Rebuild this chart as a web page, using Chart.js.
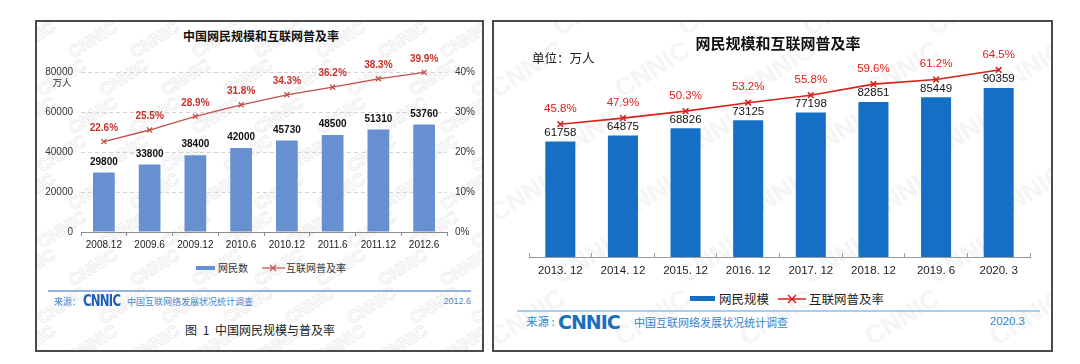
<!DOCTYPE html>
<html>
<head>
<meta charset="utf-8">
<title>中国网民规模和互联网普及率</title>
<script src="https://cdn.jsdelivr.net/npm/chart.js@4.4.1/dist/chart.umd.min.js"></script>
<style>
    body { margin: 0; width: 1080px; height: 364px; background: #fff; position: relative; overflow: hidden;
           font-family: "Liberation Sans", Arial, "Noto Sans CJK SC", sans-serif; }
    .panel { position: absolute; border: 2px solid #4a4a4a; box-sizing: border-box; overflow: hidden; }
    #p1 { left: 35px; top: 20px; width: 449px; height: 332px; }
    #p2 { left: 492px; top: 20px; width: 561px; height: 332px; }
    .mark { position: absolute; white-space: nowrap; transform: rotate(-32deg); font-weight: bold; }
    .t { position: absolute; white-space: nowrap; line-height: 1; }
    .c { transform: translate(-50%, -50%); }
    .l { transform: translate(0, -50%); }
    .r { transform: translate(-100%, -50%); }
    .cjk { font-family: "Noto Sans CJK SC", sans-serif; }
    .box { position: absolute; }
    .logo { font-family: "DejaVu Sans", sans-serif; font-weight: bold; letter-spacing: -1px; }
</style>
</head>
<body>
<div class="panel" id="p1"></div>
<div class="panel" id="p2"></div>

<div class="box" style="left:40px;top:48px;width:440px;height:212px;"><canvas id="chart1"></canvas></div>
<div class="box" style="left:500px;top:40px;width:545px;height:245px;"><canvas id="chart2"></canvas></div>

<!-- left panel texts -->
<div class="t c cjk" style="left:261px;top:36px;font-size:12px;font-weight:bold;color:#111;">中国网民规模和互联网普及率</div>
<div class="t c cjk" style="left:62px;top:83px;font-size:9.5px;color:#333;">万人</div>
<div class="box" style="left:196px;top:266px;width:19px;height:4px;background:#6690d0;"></div>
<div class="t l cjk" style="left:218px;top:268px;font-size:10px;color:#333;">网民数</div>
<svg class="box" style="left:262px;top:263px;" width="23" height="10">
    <line x1="0" y1="5" x2="23" y2="5" stroke="#c0504d" stroke-width="1.2"/>
    <path d="M8,2 L14,8 M14,2 L8,8" stroke="#c0504d" stroke-width="1.2"/>
</svg>
<div class="t l cjk" style="left:286px;top:268px;font-size:10px;color:#333;">互联网普及率</div>
<div class="box" style="left:48px;top:290px;width:423px;height:1.5px;background:#8db4e2;"></div>
<div class="t l cjk" style="left:54px;top:301px;font-size:9px;color:#4a86c8;">来源：</div>
<div class="t l logo" style="left:83px;top:301px;font-size:15px;color:#1f5fb0;transform:translate(0,-50%) scaleX(0.78);transform-origin:left center;">CNNIC</div>
<div class="t l cjk" style="left:127px;top:301px;font-size:9px;color:#4a86c8;">中国互联网络发展状况统计调查</div>
<div class="t r" style="left:471px;top:301px;font-size:9px;color:#4a86c8;">2012.6</div>
<div class="t c cjk" style="left:260px;top:330px;font-size:12px;color:#222;word-spacing:3px;">图 1 中国网民规模与普及率</div>

<!-- right panel texts -->
<div class="t c cjk" style="left:778px;top:42px;font-size:15px;font-weight:bold;color:#111;">网民规模和互联网普及率</div>
<div class="t l cjk" style="left:532px;top:58px;font-size:12.5px;color:#222;">单位：万人</div>
<div class="box" style="left:690px;top:296px;width:25px;height:5px;background:#1570c5;"></div>
<div class="t l cjk" style="left:719px;top:299px;font-size:12.5px;color:#222;">网民规模</div>
<svg class="box" style="left:778px;top:293px;" width="28" height="12">
    <line x1="0" y1="6" x2="28" y2="6" stroke="#d8211d" stroke-width="1.5"/>
    <path d="M10,2 L18,10 M18,2 L10,10" stroke="#d8211d" stroke-width="1.5"/>
</svg>
<div class="t l cjk" style="left:809px;top:299px;font-size:12.5px;color:#222;">互联网普及率</div>
<div class="box" style="left:517px;top:310px;width:523px;height:1.5px;background:#a9cdee;"></div>
<div class="t l cjk" style="left:526px;top:322px;font-size:11.5px;color:#2f86d2;">来源 :</div>
<div class="t l logo" style="left:558px;top:322px;font-size:19px;color:#1a6fbe;">CNNIC</div>
<div class="t l cjk" style="left:634px;top:322px;font-size:11px;color:#2f86d2;">中国互联网络发展状况统计调查</div>
<div class="t r" style="left:1025px;top:322px;font-size:11.5px;color:#2f86d2;">2020.3</div>

<script>
// ---- chart 1 (2012.6 report) ----
const periods1 = ['2008.12', '2009.6', '2009.12', '2010.6', '2010.12', '2011.6', '2011.12', '2012.6'];
const users1 = [29800, 33800, 38400, 42000, 45730, 48500, 51310, 53760];
const rate1 = [22.6, 25.5, 28.9, 31.8, 34.3, 36.2, 38.3, 39.9];
const usersTicks1 = [0, 20000, 40000, 60000, 80000];
const rateTicks1 = [0, 10, 20, 30, 40];

// ---- chart 2 (2020.3 report) ----
const periods2 = ['2013. 12', '2014. 12', '2015. 12', '2016. 12', '2017. 12', '2018. 12', '2019. 6', '2020. 3'];
const users2 = [61758, 64875, 68826, 73125, 77198, 82851, 85449, 90359];
const rate2 = [45.8, 47.9, 50.3, 53.2, 55.8, 59.6, 61.2, 64.5];

// faint CNNIC watermark behind the charts
function addMarks(id, size, style, dx, dy) {
    const p = document.getElementById(id);
    for (let y = -30; y < 340; y += dy) {
        for (let x = -40; x < 580; x += dx) {
            const s = document.createElement('span');
            s.className = 'mark';
            s.textContent = 'CNNIC';
            s.style.left = (x + ((y / dy) % 2) * dx / 2) + 'px';
            s.style.top = y + 'px';
            s.style.fontSize = size + 'px';
            Object.assign(s.style, style);
            p.appendChild(s);
        }
    }
}
addMarks('p1', 17, { color: 'transparent', webkitTextStroke: '0.7px #e8e8e8' }, 62, 38);
addMarks('p2', 26, { color: '#f5f5f5' }, 125, 62);

// draws the number above each bar / point
function valueLabels(sets) {
    return {
        id: 'valueLabels',
        afterDatasetsDraw(chart) {
            const ctx = chart.ctx;
            chart.data.datasets.forEach((ds, i) => {
                const cfg = sets[i];
                const meta = chart.getDatasetMeta(i);
                ctx.save();
                ctx.font = cfg.font;
                ctx.fillStyle = cfg.color;
                ctx.textAlign = 'center';
                ctx.textBaseline = 'middle';
                meta.data.forEach((el, j) => {
                    ctx.fillText(cfg.format(ds.data[j]), el.x, el.y - cfg.offset);
                });
                ctx.restore();
            });
        }
    };
}

Chart.defaults.font.family = '"Liberation Sans", Arial, sans-serif';
Chart.defaults.animation = false;

new Chart(document.getElementById('chart1'), {
    type: 'bar',
    data: {
        labels: periods1,
        datasets: [{
            label: '网民数',
            data: users1,
            backgroundColor: '#6690d0',
            categoryPercentage: 1,
            barPercentage: 0.475,
            yAxisID: 'y',
            order: 1
        }, {
            type: 'line',
            label: '互联网普及率',
            data: rate1,
            borderColor: '#c0504d',
            borderWidth: 1.3,
            pointStyle: 'crossRot',
            pointRadius: 3.5,
            pointBorderColor: '#c0504d',
            pointBorderWidth: 1.3,
            clip: false,
            yAxisID: 'y1',
            order: 0
        }]
    },
    options: {
        responsive: true,
        maintainAspectRatio: false,
        layout: { padding: { top: 24, left: 0, right: 0, bottom: 0 } },
        plugins: { legend: { display: false }, tooltip: { enabled: false } },
        scales: {
            x: {
                grid: { offset: true, drawOnChartArea: false, drawTicks: true, tickLength: 4, color: '#8c8c8c' },
                border: { display: true, color: '#8c8c8c' },
                ticks: { font: { size: 10 }, color: '#222', padding: 3, maxRotation: 0, autoSkip: false },
                afterFit: s => { s.height = 28; }
            },
            y: {
                position: 'left',
                min: usersTicks1[0],
                max: usersTicks1[usersTicks1.length - 1],
                ticks: { stepSize: usersTicks1[1], font: { size: 10 }, color: '#333', padding: 8, callback: v => String(v) },
                grid: { color: '#d4d4d4', drawTicks: false },
                border: { display: false, dash: [4, 3] },
                afterFit: s => { s.width = 41; }
            },
            y1: {
                position: 'right',
                min: rateTicks1[0],
                max: rateTicks1[rateTicks1.length - 1],
                ticks: { stepSize: rateTicks1[1], font: { size: 10 }, color: '#333', padding: 8, callback: v => v + '%' },
                grid: { drawOnChartArea: false, drawTicks: false },
                border: { display: false },
                afterFit: s => { s.width = 33; }
            }
        }
    },
    plugins: [valueLabels([
        { font: 'bold 10px "Liberation Sans", Arial', color: '#111', offset: 10.5, format: v => String(v) },
        { font: 'bold 10px "Liberation Sans", Arial', color: '#c8312b', offset: 13.5, format: v => v.toFixed(1) + '%' }
    ])]
});

new Chart(document.getElementById('chart2'), {
    type: 'bar',
    data: {
        labels: periods2,
        datasets: [{
            label: '网民规模',
            data: users2,
            backgroundColor: '#1570c5',
            categoryPercentage: 1,
            barPercentage: 0.48,
            yAxisID: 'y',
            order: 1
        }, {
            type: 'line',
            label: '互联网普及率',
            data: rate2,
            borderColor: '#d8211d',
            borderWidth: 1.6,
            pointStyle: 'crossRot',
            pointRadius: 4,
            pointBorderColor: '#d8211d',
            pointBorderWidth: 1.6,
            clip: false,
            yAxisID: 'y1',
            order: 0
        }]
    },
    options: {
        responsive: true,
        maintainAspectRatio: false,
        layout: { padding: { top: 14, left: 29, right: 15, bottom: 0 } },
        plugins: { legend: { display: false }, tooltip: { enabled: false } },
        scales: {
            x: {
                grid: { offset: true, drawOnChartArea: false, drawTicks: true, tickLength: -4, color: '#9a9a9a' },
                border: { display: true, color: '#9a9a9a' },
                ticks: { font: { size: 11.5 }, color: '#222', padding: 11, maxRotation: 0, autoSkip: false },
                afterFit: s => { s.height = 28; }
            },
            y: { display: false, min: 0, max: 108500 },
            y1: { display: false, min: 0, max: 70 }
        }
    },
    plugins: [valueLabels([
        { font: '11.5px "Liberation Sans", Arial', color: '#111', offset: 8.7, format: v => String(v) },
        { font: '11.5px "Liberation Sans", Arial', color: '#e0201c', offset: 15.5, format: v => v.toFixed(1) + '%' }
    ])]
});
</script>
</body>
</html>
